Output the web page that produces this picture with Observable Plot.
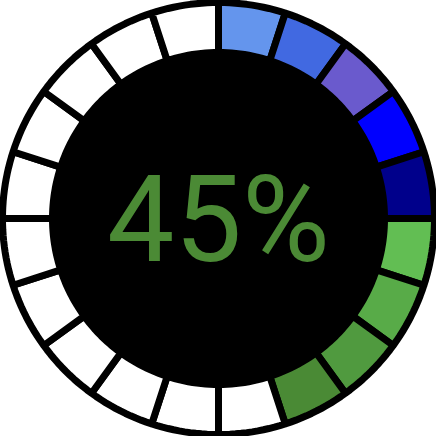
<!DOCTYPE html>
<html>
<head>
<meta charset="utf-8">
<script src="https://cdn.jsdelivr.net/npm/d3@7"></script>
<script src="https://cdn.jsdelivr.net/npm/@observablehq/plot@0.6"></script>
<style>
  html, body { margin: 0; padding: 0; background: #fff; }
  #chart svg { display: block; }
</style>
</head>
<body>
<div id="chart"></div>
<script>
// ---- data ----
const percentValue = 45;
const segmentCount = 20;
const filledColors = ["#6495ed", "#4169e1", "#6a5acd", "#0000ff", "#00008b",
                      "#62be53", "#58ab48", "#509a3f", "#4a8a35"];
const emptyColor = "white";
const labelText = percentValue + "%";
const labelColor = "#4b8a35";

// ---- geometry ----
const W = 436, H = 436;
const half = W / 2;
const outerR = 216, innerR = 166, discR = 217.5;
const step = 360 / segmentCount;

const segments = d3.range(segmentCount).map(i => ({
  seg: i,
  color: i < filledColors.length ? filledColors[i] : emptyColor
}));

const pts = [];
for (const s of segments) {
  const a0 = s.seg * step, a1 = (s.seg + 1) * step;
  const n = 12;
  for (let k = 0; k <= n; k++) {
    const a = (a0 + (a1 - a0) * k / n) * Math.PI / 180;
    pts.push({seg: s.seg, color: s.color, x: outerR * Math.sin(a), y: outerR * Math.cos(a)});
  }
  for (let k = n; k >= 0; k--) {
    const a = (a0 + (a1 - a0) * k / n) * Math.PI / 180;
    pts.push({seg: s.seg, color: s.color, x: innerR * Math.sin(a), y: innerR * Math.cos(a)});
  }
}

const disc = d3.range(0, 361, 2).map(d => ({
  x: discR * Math.sin(d * Math.PI / 180),
  y: discR * Math.cos(d * Math.PI / 180)
}));

const chart = Plot.plot({
  width: W,
  height: H,
  margin: 0,
  x: {domain: [-half, half], axis: null},
  y: {domain: [-half, half], axis: null},
  style: {background: "white"},
  marks: [
    Plot.line(disc, {x: "x", y: "y", curve: "linear-closed", fill: "black", stroke: "black"}),
    Plot.line(pts, {x: "x", y: "y", z: "seg", fill: "color", stroke: "black", strokeWidth: 7,
                    strokeLinejoin: "miter", curve: "linear-closed"}),
    Plot.text([labelText], {x: () => 0, y: () => 0, text: d => d, fill: labelColor,
                            fontSize: 120, fontFamily: "Roboto", dy: 4, textAnchor: "middle"})
  ]
});
document.getElementById("chart").appendChild(chart);
</script>
</body>
</html>
